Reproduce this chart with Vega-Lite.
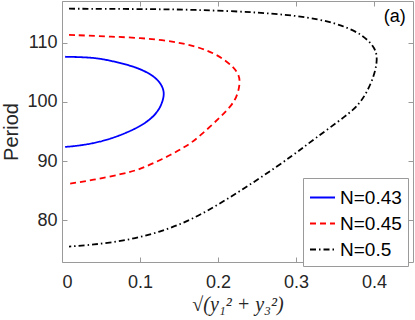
{
  "$schema": "https://vega.github.io/schema/vega-lite/v6.json",
  "width": 351,
  "height": 261,
  "autosize": {"type": "none"},
  "padding": {"left": 62, "top": 1, "right": 2, "bottom": 58},
  "background": "white",
  "config": {
    "view": {"stroke": "#9a9a9a", "strokeWidth": 1},
    "font": "Liberation Sans",
    "axis": {
      "domain": false,
      "grid": false,
      "tickSize": -5,
      "tickColor": "#9a9a9a",
      "labelFont": "Liberation Sans",
      "labelFontSize": 18,
      "labelColor": "#262626",
      "titleColor": "#262626",
      "titleFontWeight": "normal"
    }
  },
  "datasets": {
    "curves": [
      {"N": "N=0.43", "i": 1, "x": 0.004, "y": 107.6},
      {"N": "N=0.43", "i": 2, "x": 0.039, "y": 107.5},
      {"N": "N=0.43", "i": 3, "x": 0.061, "y": 107.0},
      {"N": "N=0.43", "i": 4, "x": 0.095, "y": 105.9},
      {"N": "N=0.43", "i": 5, "x": 0.1165, "y": 104.5},
      {"N": "N=0.43", "i": 6, "x": 0.127, "y": 103.1},
      {"N": "N=0.43", "i": 7, "x": 0.1315, "y": 101.6},
      {"N": "N=0.43", "i": 8, "x": 0.129, "y": 100.0},
      {"N": "N=0.43", "i": 9, "x": 0.123, "y": 98.3},
      {"N": "N=0.43", "i": 10, "x": 0.108, "y": 96.4},
      {"N": "N=0.43", "i": 11, "x": 0.082, "y": 94.7},
      {"N": "N=0.43", "i": 12, "x": 0.052, "y": 93.3},
      {"N": "N=0.43", "i": 13, "x": 0.022, "y": 92.6},
      {"N": "N=0.43", "i": 14, "x": 0.004, "y": 92.4},

      {"N": "N=0.45", "i": 1, "x": 0.009, "y": 111.3},
      {"N": "N=0.45", "i": 2, "x": 0.061, "y": 111.0},
      {"N": "N=0.45", "i": 3, "x": 0.125, "y": 110.65},
      {"N": "N=0.45", "i": 4, "x": 0.181, "y": 109.2},
      {"N": "N=0.45", "i": 5, "x": 0.211, "y": 107.0},
      {"N": "N=0.45", "i": 6, "x": 0.2257, "y": 105.0},
      {"N": "N=0.45", "i": 7, "x": 0.229, "y": 103.4},
      {"N": "N=0.45", "i": 8, "x": 0.2237, "y": 100.3},
      {"N": "N=0.45", "i": 9, "x": 0.2064, "y": 97.8},
      {"N": "N=0.45", "i": 10, "x": 0.170, "y": 93.4},
      {"N": "N=0.45", "i": 11, "x": 0.157, "y": 92.4},
      {"N": "N=0.45", "i": 12, "x": 0.139, "y": 91.0},
      {"N": "N=0.45", "i": 13, "x": 0.1186, "y": 89.75},
      {"N": "N=0.45", "i": 14, "x": 0.0994, "y": 88.6},
      {"N": "N=0.45", "i": 15, "x": 0.078, "y": 87.85},
      {"N": "N=0.45", "i": 16, "x": 0.039, "y": 86.8},
      {"N": "N=0.45", "i": 17, "x": 0.009, "y": 86.2},

      {"N": "N=0.5", "i": 1, "x": 0.009, "y": 115.7},
      {"N": "N=0.5", "i": 2, "x": 0.100, "y": 115.65},
      {"N": "N=0.5", "i": 3, "x": 0.168, "y": 115.55},
      {"N": "N=0.5", "i": 4, "x": 0.254, "y": 115.1},
      {"N": "N=0.5", "i": 5, "x": 0.318, "y": 114.3},
      {"N": "N=0.5", "i": 6, "x": 0.361, "y": 112.9},
      {"N": "N=0.5", "i": 7, "x": 0.386, "y": 111.2},
      {"N": "N=0.5", "i": 8, "x": 0.399, "y": 109.5},
      {"N": "N=0.5", "i": 9, "x": 0.405, "y": 107.8},
      {"N": "N=0.5", "i": 10, "x": 0.4015, "y": 104.8},
      {"N": "N=0.5", "i": 11, "x": 0.391, "y": 101.6},
      {"N": "N=0.5", "i": 12, "x": 0.380, "y": 99.45},
      {"N": "N=0.5", "i": 13, "x": 0.366, "y": 97.8},
      {"N": "N=0.5", "i": 14, "x": 0.322, "y": 93.6},
      {"N": "N=0.5", "i": 15, "x": 0.2964, "y": 91.0},
      {"N": "N=0.5", "i": 16, "x": 0.2536, "y": 87.1},
      {"N": "N=0.5", "i": 17, "x": 0.2108, "y": 83.5},
      {"N": "N=0.5", "i": 18, "x": 0.168, "y": 80.2},
      {"N": "N=0.5", "i": 19, "x": 0.125, "y": 78.0},
      {"N": "N=0.5", "i": 20, "x": 0.082, "y": 76.6},
      {"N": "N=0.5", "i": 21, "x": 0.039, "y": 75.9},
      {"N": "N=0.5", "i": 22, "x": 0.009, "y": 75.6}
    ],
    "panel": [
      {"label": "(a)", "lx": 0.4265, "ly": 114.3}
    ]
  },
  "layer": [
    {
      "data": {"name": "curves"},
      "mark": {"type": "line", "strokeWidth": 1.8, "interpolate": "basis", "clip": true},
      "encoding": {
        "x": {
          "field": "x", "type": "quantitative",
          "scale": {"domain": [0, 0.45], "nice": false, "zero": false},
          "axis": {"values": [0, 0.1, 0.2, 0.3, 0.4], "format": "~g", "labelPadding": 16,
                   "title": "√(y₁² + y₃²)", "titleFont": "Liberation Serif", "titleFontStyle": "italic", "titleFontSize": 20, "titlePadding": 3}
        },
        "y": {
          "field": "y", "type": "quantitative",
          "scale": {"domain": [73, 117], "nice": false, "zero": false},
          "axis": {"values": [80, 90, 100, 110], "labelPadding": 10,
                   "title": "Period", "titleFontSize": 20, "titlePadding": 5}
        },
        "order": {"field": "i", "type": "quantitative"},
        "color": {
          "field": "N", "type": "nominal",
          "scale": {"domain": ["N=0.43", "N=0.45", "N=0.5"], "range": ["#0000ff", "#ff0000", "#000000"]},
          "legend": {
            "title": null, "orient": "none", "legendX": 241, "legendY": 177,
            "symbolType": "stroke", "symbolSize": 625, "symbolStrokeWidth": 2,
            "labelFontSize": 19, "labelFont": "Liberation Sans", "labelColor": "#000000",
            "labelOffset": 4, "rowPadding": 2, "padding": 6,
            "strokeColor": "#9a9a9a", "fillColor": "white"
          }
        },
        "strokeDash": {
          "field": "N", "type": "nominal",
          "scale": {"domain": ["N=0.43", "N=0.45", "N=0.5"], "range": [[1, 0], [6, 4], [6, 3, 1.5, 3]]},
          "legend": {
            "title": null, "orient": "none", "legendX": 241, "legendY": 177,
            "symbolType": "stroke", "symbolSize": 625, "symbolStrokeWidth": 2,
            "labelFontSize": 19, "labelFont": "Liberation Sans", "labelColor": "#000000",
            "labelOffset": 4, "rowPadding": 2, "padding": 6,
            "strokeColor": "#9a9a9a", "fillColor": "white"
          }
        }
      }
    },
    {
      "data": {"name": "panel"},
      "mark": {"type": "text", "fontSize": 18, "font": "Liberation Sans", "color": "#000000", "align": "center", "baseline": "middle"},
      "encoding": {
        "x": {
          "field": "lx", "type": "quantitative",
          "scale": {"domain": [0, 0.45], "nice": false, "zero": false},
          "axis": {"orient": "top", "values": [0, 0.1, 0.2, 0.3, 0.4], "labels": false, "title": null}
        },
        "y": {
          "field": "ly", "type": "quantitative",
          "scale": {"domain": [73, 117], "nice": false, "zero": false},
          "axis": {"orient": "right", "values": [80, 90, 100, 110], "labels": false, "title": null}
        },
        "text": {"field": "label"}
      }
    }
  ],
  "resolve": {"axis": {"x": "independent", "y": "independent"}}
}
